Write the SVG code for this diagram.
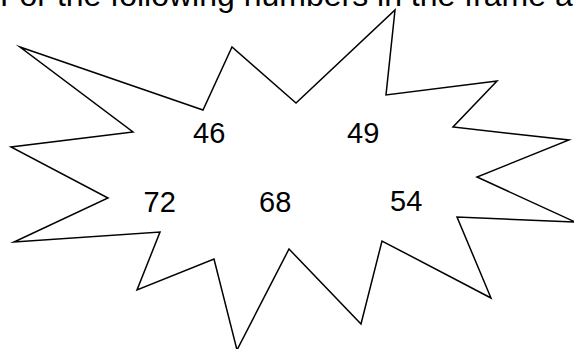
<svg xmlns="http://www.w3.org/2000/svg" width="574" height="349" viewBox="0 0 574 349">
<style>
.t{font-family:"Liberation Sans",Arial,sans-serif;fill:#000}
.n{font-size:29px}
.frame{fill:#fff;stroke:#000;stroke-width:1.5;stroke-linejoin:miter;stroke-miterlimit:20}
</style>
<rect width="574" height="349" fill="#fff"/>
<text class="t" x="0" y="5.5" font-size="32">For the following numbers in the frame a</text>
<g id="frame">
<polygon class="frame" points="20,47 203,110 232,47 296,103 395,10 386,95 497,81 453,127 569,140 477,177 575,222 457,217 491,298 382,241 361,324 289,249 237,350 214,259 137,290 160,232 14,242 108,198 11,147 133,132"/>
</g>
<g id="numbers">
<text class="t n" x="193" y="143">46</text>
<text class="t n" x="347" y="143">49</text>
<text class="t n" x="143.5" y="212">72</text>
<text class="t n" x="259" y="212">68</text>
<text class="t n" x="390" y="211">54</text>
</g>
</svg>
